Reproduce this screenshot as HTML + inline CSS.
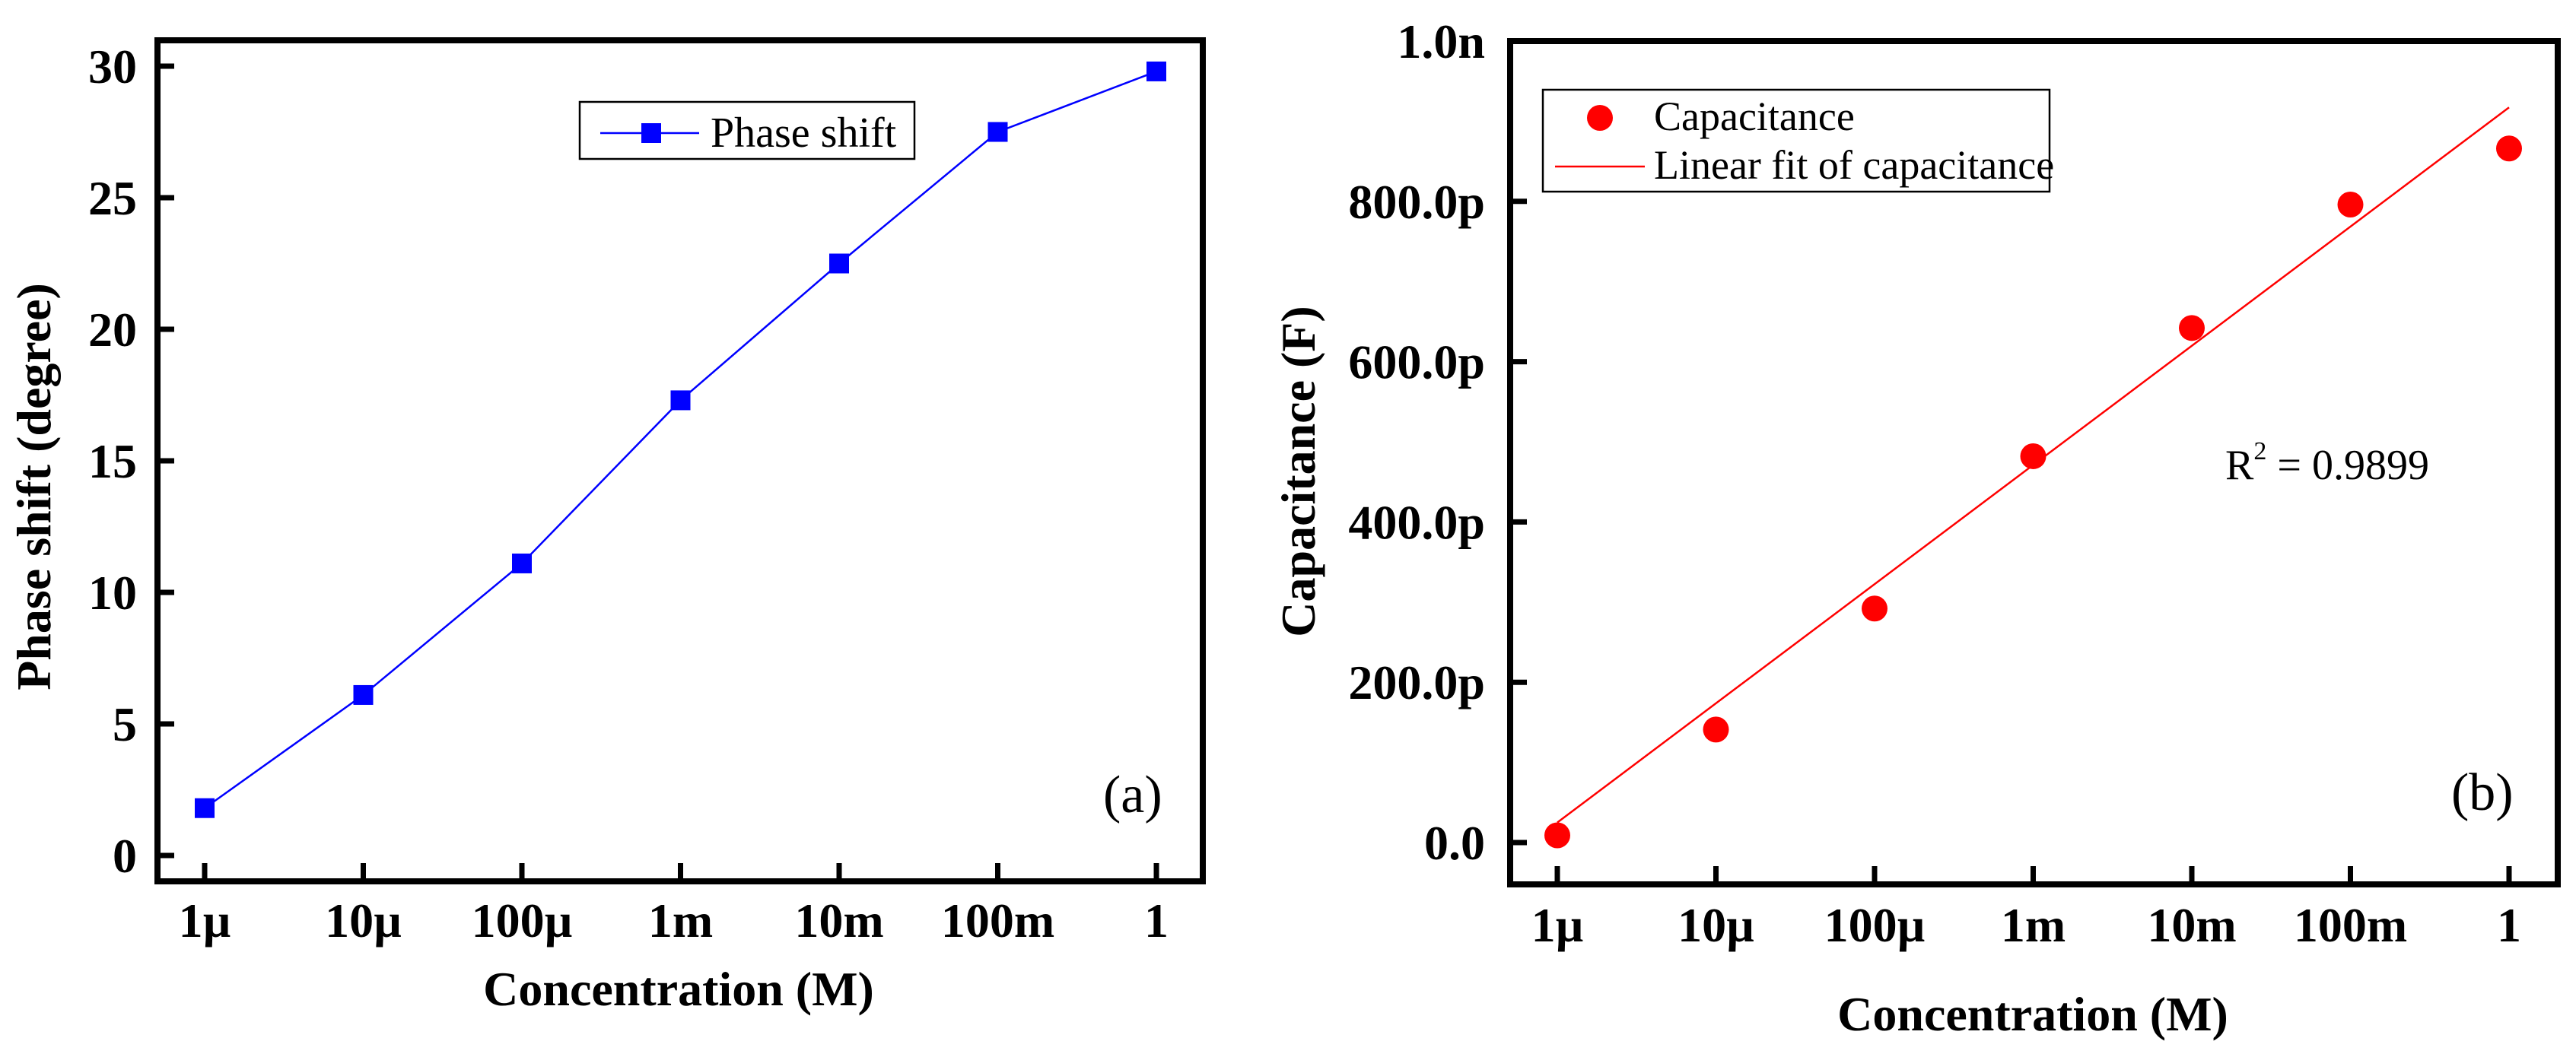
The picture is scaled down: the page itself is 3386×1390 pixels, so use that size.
<!DOCTYPE html>
<html><head><meta charset="utf-8"><style>
html,body{margin:0;padding:0;background:#fff;}
svg{display:block;}
svg text, svg tspan{font-family:"Liberation Serif","DejaVu Serif",serif;}
.b{font-weight:bold;}
</style></head><body>
<svg id="fig" width="3386" height="1390" viewBox="0 0 3386 1390" xmlns="http://www.w3.org/2000/svg" font-family="Liberation Serif, serif">
<g id="pa"></g>
<g id="pb"></g>
</svg>
<script>
const categories = ["1µ","10µ","100µ","1m","10m","100m","1"];
const phaseShift = [1.8, 6.1, 11.1, 17.3, 22.5, 27.5, 29.8];
const phaseTicks = [0,5,10,15,20,25,30];
const phaseTickLabels = ["0","5","10","15","20","25","30"];
const capacitance = [9, 141, 292, 482, 642, 796, 866];
const capTicks = [0,200,400,600,800,1000];
const capTickLabels = ["0.0","200.0p","400.0p","600.0p","800.0p","1.0n"];
const fitCoef = [25, 148.7]; // intercept (pF), slope per decade
const NS="http://www.w3.org/2000/svg";
const FF="Liberation Serif, DejaVu Serif, serif";
function mk(parent,tag,attrs,txt){const e=document.createElementNS(NS,tag);for(const k in attrs)e.setAttribute(k,attrs[k]);if(tag==='text'||tag==='tspan')e.setAttribute('font-family',FF);if(txt!==undefined)e.textContent=txt;parent.appendChild(e);return e;}

// ---------- Panel A ----------
const pa=document.getElementById('pa');
const A={l:207,r:1581,t:53,b:1159};
const ax=i=>269+i*(1520-269)/6;
const ay=v=>1125-v*(1125-87)/30;
let fr=mk(pa,'rect',{x:A.l,y:A.t,width:A.r-A.l,height:A.b-A.t,fill:'none',stroke:'#000','stroke-width':8});


phaseTicks.forEach((v,i)=>{
  const y=ay(v);
  let t=mk(pa,'line',{x1:A.l,x2:A.l+22,y1:y,y2:y,stroke:'#000','stroke-width':7});
  
  
  let l=mk(pa,'text',{x:180,y:y+22,'text-anchor':'end','font-size':64,'font-weight':'bold'},phaseTickLabels[i]);
  
  
});
categories.forEach((c,i)=>{
  const x=ax(i);
  let t=mk(pa,'line',{x1:x,x2:x,y1:A.b,y2:A.b-24,stroke:'#000','stroke-width':7});
  
  
  let l=mk(pa,'text',{x:x,y:1232,'text-anchor':'middle','font-size':64,'font-weight':'bold'},c);
  
  
});
let pl=mk(pa,'polyline',{points:phaseShift.map((v,i)=>ax(i)+','+ay(v)).join(' '),fill:'none',stroke:'#0000ff','stroke-width':2.5});


phaseShift.forEach((v,i)=>{
  let s=mk(pa,'rect',{x:ax(i)-13,y:ay(v)-13,width:26,height:26,fill:'#0000ff'});
  
  
});
let xt=mk(pa,'text',{x:892,y:1322,'text-anchor':'middle','font-size':64,'font-weight':'bold'},'Concentration (M)');


let yt=mk(pa,'text',{x:0,y:0,'text-anchor':'middle','font-size':64,'font-weight':'bold',transform:'translate(66,640) rotate(-90)'},'Phase shift (degree)');


let lg=mk(pa,'g',{});


mk(lg,'rect',{x:762,y:134,width:440,height:75,fill:'#fff',stroke:'#000','stroke-width':2.5});
mk(lg,'line',{x1:789,x2:919,y1:175,y2:175,stroke:'#0000ff','stroke-width':2.5});
mk(lg,'rect',{x:843,y:162,width:26,height:26,fill:'#0000ff'});
mk(lg,'text',{x:934,y:193,'font-size':56},'Phase shift');
let la=mk(pa,'text',{x:1450,y:1068,'font-size':70},'(a)');



// ---------- Panel B ----------
const pb=document.getElementById('pb');
const B={l:1985,r:3362,t:54,b:1163};
const bx=i=>2047+i*(3298-2047)/6;
const by=v=>1108-v*(1108-54)/1000;
let fr2=mk(pb,'rect',{x:B.l,y:B.t,width:B.r-B.l,height:B.b-B.t,fill:'none',stroke:'#000','stroke-width':8});


capTicks.forEach((v,i)=>{
  const y=by(v);
  let t=mk(pb,'line',{x1:B.l,x2:B.l+22,y1:y,y2:y,stroke:'#000','stroke-width':7});
  
  
  let l=mk(pb,'text',{x:1952,y:y+22,'text-anchor':'end','font-size':64,'font-weight':'bold'},capTickLabels[i]);
  
  
});
categories.forEach((c,i)=>{
  const x=bx(i);
  let t=mk(pb,'line',{x1:x,x2:x,y1:B.b,y2:B.b-24,stroke:'#000','stroke-width':7});
  
  
  let l=mk(pb,'text',{x:x,y:1238,'text-anchor':'middle','font-size':64,'font-weight':'bold'},c);
  
  
});
let fl=mk(pb,'line',{x1:bx(0),y1:by(fitCoef[0]),x2:bx(6),y2:by(fitCoef[0]+6*fitCoef[1]),stroke:'#ff0000','stroke-width':2.5});


capacitance.forEach((v,i)=>{
  let c=mk(pb,'circle',{cx:bx(i),cy:by(v),r:17,fill:'#ff0000'});
  
  
});
let xt2=mk(pb,'text',{x:2672,y:1355,'text-anchor':'middle','font-size':64,'font-weight':'bold'},'Concentration (M)');


let yt2=mk(pb,'text',{x:0,y:0,'text-anchor':'middle','font-size':64,'font-weight':'bold',transform:'translate(1728,620) rotate(-90)'},'Capacitance (F)');


let lg2=mk(pb,'g',{});


mk(lg2,'rect',{x:2028,y:118,width:666,height:134,fill:'#fff',stroke:'#000','stroke-width':2.5});
mk(lg2,'circle',{cx:2103,cy:155,r:17,fill:'#ff0000'});
mk(lg2,'text',{x:2174,y:171,'font-size':54},'Capacitance');
mk(lg2,'line',{x1:2044,x2:2162,y1:219,y2:219,stroke:'#ff0000','stroke-width':2.5});
mk(lg2,'text',{x:2174,y:235,'font-size':54},'Linear fit of capacitance');
let r2=mk(pb,'text',{x:2925,y:630,'font-size':56},'R');


mk(r2,'tspan',{dy:-26,'font-size':34},'2');
mk(r2,'tspan',{dy:26,'font-size':56},' = 0.9899');
let lb=mk(pb,'text',{x:3222,y:1065,'font-size':70},'(b)');


</script>
</body></html>
